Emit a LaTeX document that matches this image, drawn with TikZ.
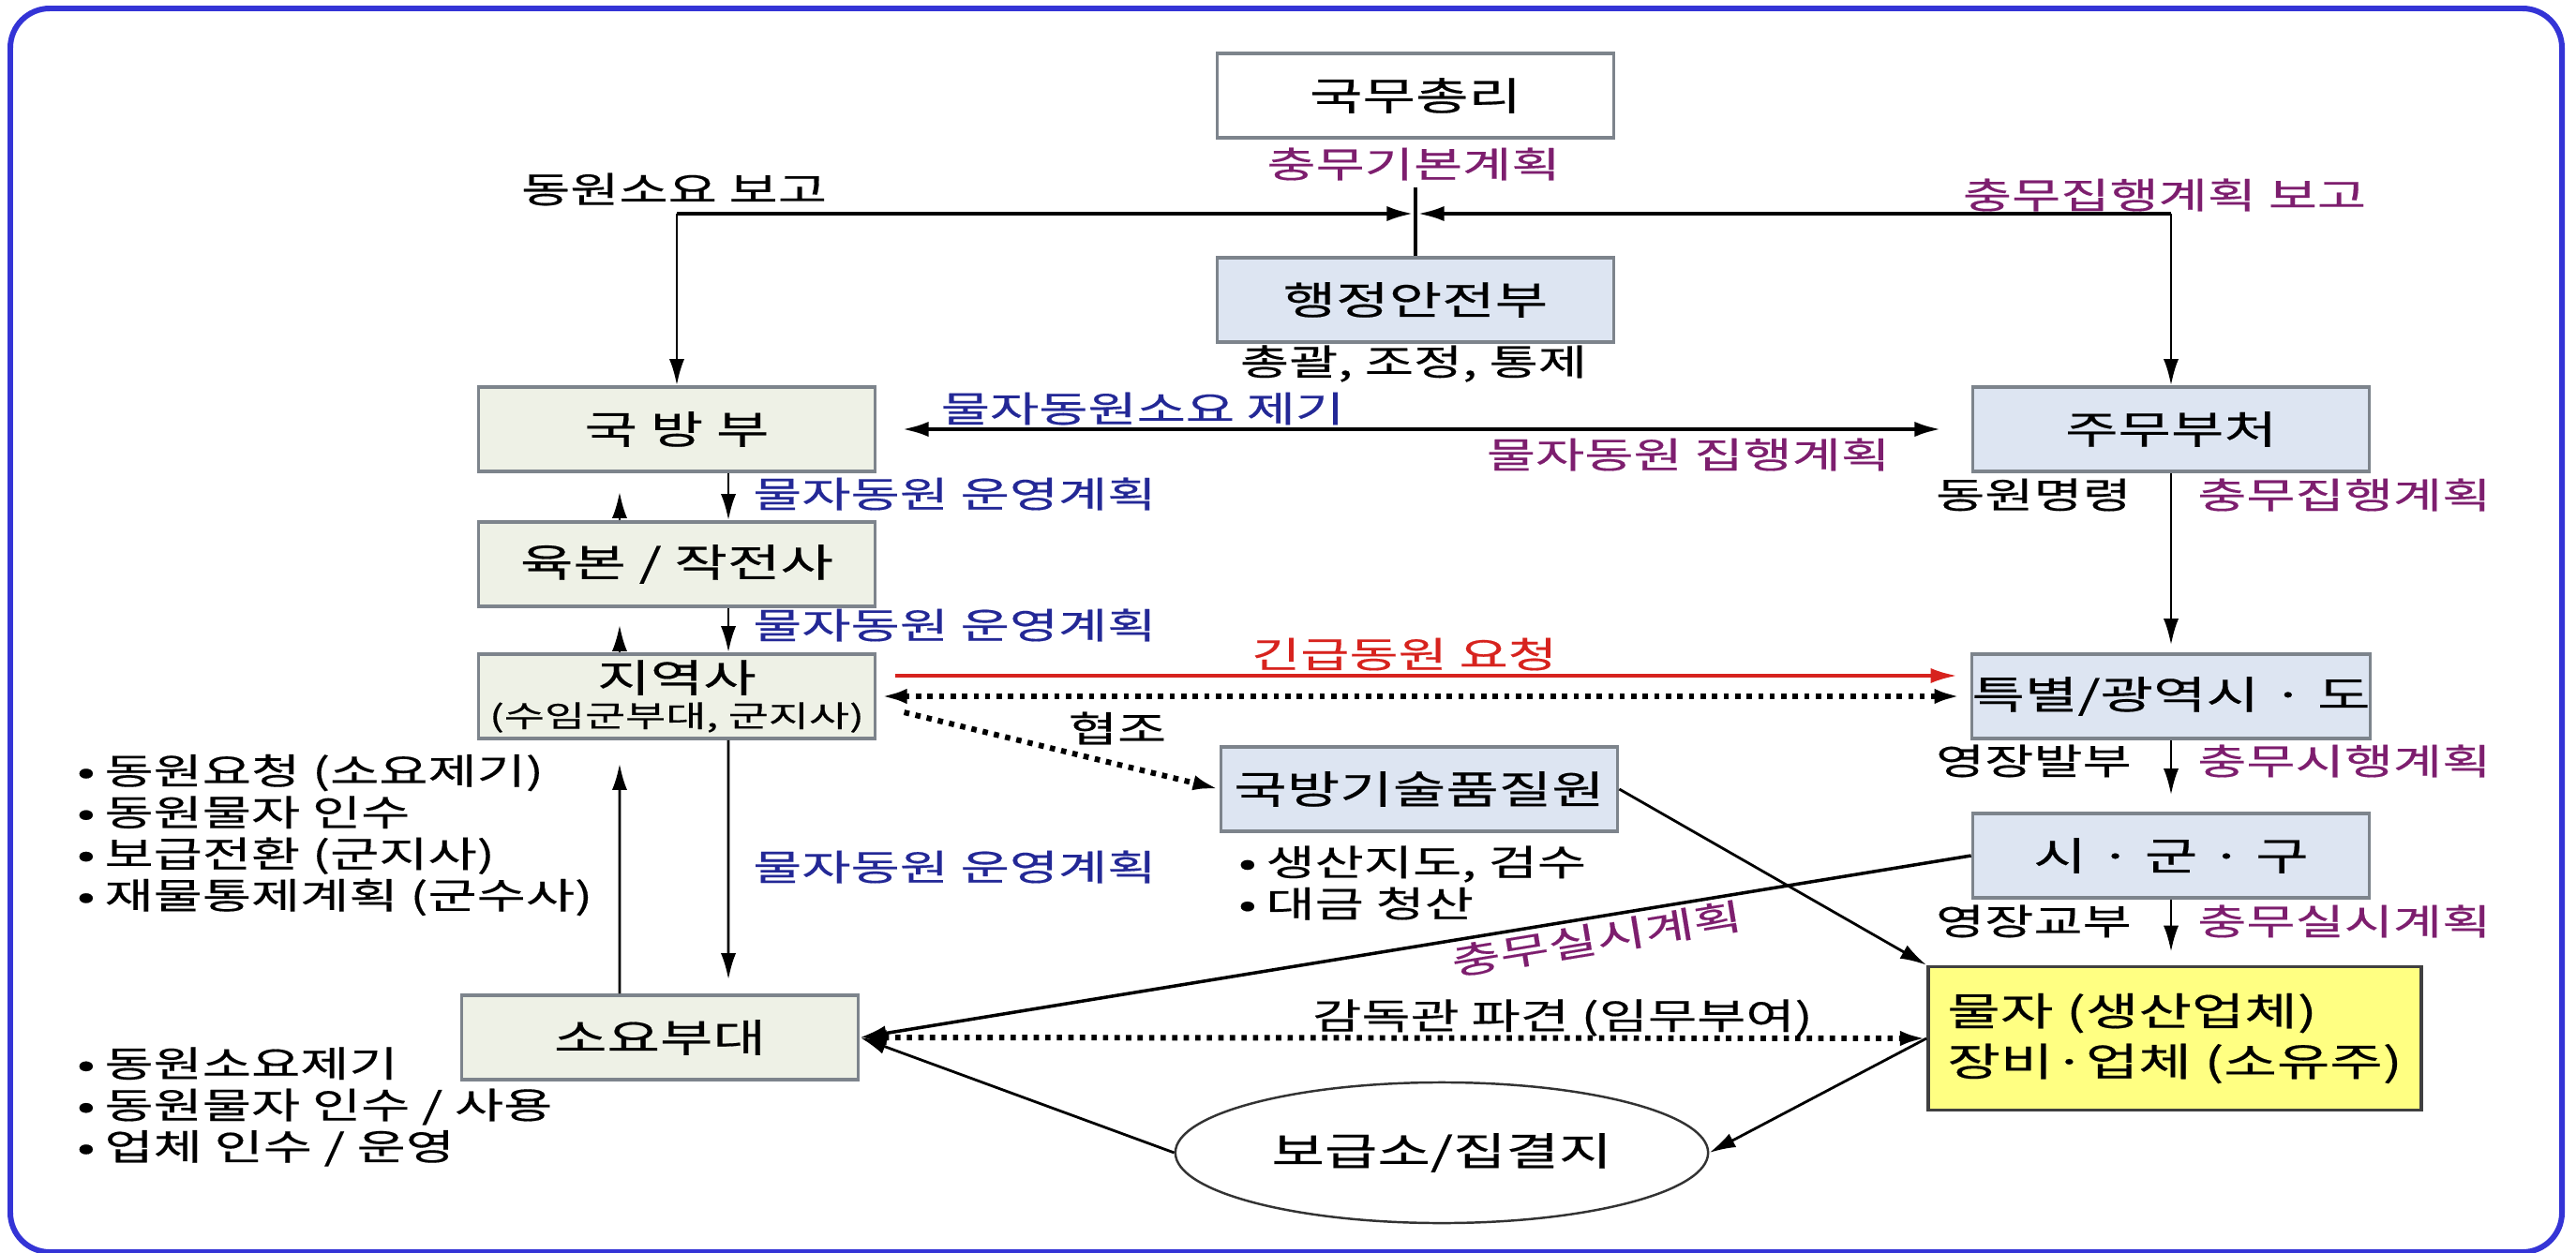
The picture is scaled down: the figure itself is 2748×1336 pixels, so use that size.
\documentclass[tikz,border=0pt]{standalone}
\usepackage{fontspec}
\setmainfont[FakeStretch=1.48,FakeBold=0.4]{Noto Sans CJK KR}
\usepackage{xcolor}
\usetikzlibrary{arrows.meta,shapes.geometric}

\definecolor{frameblue}{RGB}{52,52,214}
\definecolor{planpurple}{RGB}{125,30,110}
\definecolor{planblue}{RGB}{35,40,150}
\definecolor{urgentred}{RGB}{215,35,30}
\definecolor{armyfill}{RGB}{238,241,230}
\definecolor{govfill}{RGB}{221,229,242}
\definecolor{firmfill}{RGB}{255,255,130}
\definecolor{boxline}{RGB}{125,132,140}

\newcommand{\itm}{•\hspace{0.1cm}}

\tikzset{
  box/.style={draw=boxline,line width=1pt,minimum width=4.23cm,minimum height=0.9cm,inner sep=0pt,font=\fontsize{11.8}{13.5}\selectfont},
  armybox/.style={box,fill=armyfill},
  govbox/.style={box,fill=govfill},
  lab/.style={font=\fontsize{10.9}{12.6}\selectfont,inner sep=1pt},
  arr/.style={-{Latex[length=8pt,width=4.6pt]},line width=0.8pt},
  arrback/.style={{Latex[length=8pt,width=4.6pt]}-,line width=0.8pt},
  arrboth/.style={{Latex[length=8pt,width=4.6pt]}-{Latex[length=8pt,width=4.6pt]},line width=0.8pt},
  dots/.style={line width=1.7pt,dash pattern=on 1.6pt off 1.9pt},
}

\begin{document}
\begin{tikzpicture}[x=0.01cm,y=-0.01cm]
\useasboundingbox (0,0) rectangle (2748,1336);
\draw[frameblue,line width=1.7pt,rounded corners=0.42cm] (11,9) rectangle (2733,1336);

% boxes
\node[box,fill=white] (pm) at (1510,102) {국무총리};
\node[govbox] (mois) at (1510,320) {행정안전부};
\node[armybox] (mnd) at (722,458) {국 방 부};
\node[armybox] (army) at (722,602) {육본 / 작전사};
\node[armybox,align=center] (region) at (722,743) {지역사\\[-3pt]{\fontsize{9}{11}\selectfont (수임군부대, 군지사)}};
\node[armybox] (unit) at (704,1107) {소요부대};
\node[govbox] (lead) at (2316,458) {주무부처};
\node[govbox] (metro) at (2316,743) {특별/광역시 · 도};
\node[govbox] (city) at (2316,913) {시 · 군 · 구};
\node[govbox] (dtaq) at (1514,842) {국방기술품질원};
\node[box,draw=black!75,fill=firmfill,minimum width=5.26cm,minimum height=1.53cm,align=left,font=\fontsize{11.8}{15.3}\selectfont] (firm) at (2320,1108) {물자 (생산업체)\\장비·업체 (소유주)};
\node[draw=black!80,line width=0.7pt,ellipse,minimum width=5.68cm,minimum height=1.5cm,font=\fontsize{11.8}{13.5}\selectfont] (depot) at (1538,1230) {보급소/집결지};

% labels
\node[lab,text=planpurple] (basicplan) at (1508,175) {충무기본계획};
\node[lab] (control) at (1508,388) {총괄, 조정, 통제};
\node[lab] (needreport) at (719,202) {동원소요 보고};
\node[lab,text=planpurple] (execreport) at (2309,208) {충무집행계획 보고};
\node[lab,text=planblue] (raise) at (1219,436) {물자동원소요 제기};
\node[lab,text=planpurple] (execplan) at (1801,485) {물자동원 집행계획};
\node[lab,text=planblue,anchor=west] (opplana) at (799,527) {물자동원 운영계획};
\node[lab,text=planblue,anchor=west] (opplanb) at (799,667) {물자동원 운영계획};
\node[lab,text=planblue,anchor=west] (opplanc) at (799,925) {물자동원 운영계획};
\node[lab,text=urgentred] (urgent) at (1498,698) {긴급동원 요청};
\node[lab] (coop) at (1192,777) {협조};
\node[lab,anchor=east] (order) at (2278,528) {동원명령};
\node[lab,text=planpurple,anchor=west] (execplanb) at (2340,528) {충무집행계획};
\node[lab,anchor=east] (warrant) at (2278,812) {영장발부};
\node[lab,text=planpurple,anchor=west] (runplan) at (2340,812) {충무시행계획};
\node[lab,anchor=east] (handover) at (2278,983) {영장교부};
\node[lab,text=planpurple,anchor=west] (doplan) at (2340,983) {충무실시계획};
\node[lab] (inspector) at (1667,1086) {감독관 파견 (임무부여)};

\node[lab,anchor=west,align=left] (dutyregion) at (78,891) {\itm 동원요청 (소요제기)\\\itm 동원물자 인수\\\itm 보급전환 (군지사)\\\itm 재물통제계획 (군수사)};
\node[lab,anchor=west,align=left] (dutyunit) at (78,1181) {\itm 동원소요제기\\\itm 동원물자 인수 / 사용\\\itm 업체 인수 / 운영};
\node[lab,anchor=west,align=left] (dutydtaq) at (1317,942) {\itm 생산지도, 검수\\\itm 대금 청산};

% connectors
\coordinate (toprow) at (0,228);
\coordinate (stubrow) at (0,200);
\coordinate (hubleft) at (mnd.north |- toprow);
\coordinate (hubright) at (lead.north |- toprow);
\coordinate (hub) at (mois.north |- toprow);
\draw[line width=1.4pt] (mois.north) -- (mois.north |- stubrow);
\draw[arr,line width=1.1pt,shorten >=0.7pt] (hubleft) -- (hub);
\draw[arr,line width=1.1pt,shorten >=0.7pt] (hubright) -- (hub);
\draw[arr] (hubleft) -- (mnd.north);
\draw[arr] (hubright) -- (lead.north);
\draw[arrboth,line width=1.2pt,shorten <=0.27cm,shorten >=0.32cm] (mnd.east) -- (lead.west);

\draw[arr,shorten >=0.2cm] ([xshift=-0.61cm]army.north) -- ([xshift=-0.61cm]mnd.south);
\draw[arr] ([xshift=0.55cm]mnd.south) -- ([xshift=0.55cm]army.north);
\draw[arr,shorten >=0.18cm] ([xshift=-0.61cm]region.north) -- ([xshift=-0.61cm]army.south);
\draw[arr] ([xshift=0.55cm]army.south) -- ([xshift=0.55cm]region.north);
\draw[arr,shorten >=0.25cm] ([xshift=-0.43cm]unit.north) -- ([xshift=-0.61cm]region.south);
\draw[arr,shorten >=0.15cm] ([xshift=0.55cm]region.south) -- ([xshift=0.73cm]unit.north);

\draw[arr,shorten >=0.08cm] (lead.south) -- (metro.north);
\draw[arr,shorten >=0.18cm] (metro.south) -- (city.north);
\draw[arr,shorten >=0.14cm] (city.south) -- (city.south |- firm.north);

\draw[arr,urgentred,line width=1pt,shorten <=0.2cm,shorten >=0.14cm] ([yshift=0.22cm]region.east) -- ([yshift=0.22cm]metro.west);
\draw[arrboth,dots,shorten <=0.04cm,shorten >=0.1cm] (region.east) -- (metro.west);
\draw[arr,dots,shorten <=0.3cm] ([yshift=-0.1cm]region.east) -- (dtaq.west);

\draw[arr] (dtaq.east) -- (firm.north west);
\draw[arrback,line width=1pt] (unit.east) -- node[lab,sloped,below,pos=0.66,text=planpurple] (doplanb) {충무실시계획} (city.west);
\draw[arrboth,dots] (unit.east) -- (firm.west);
\draw[arr] (depot.west) -- (unit.east);
\draw[arr] (firm.west) -- (depot.east);
\end{tikzpicture}
\end{document}
